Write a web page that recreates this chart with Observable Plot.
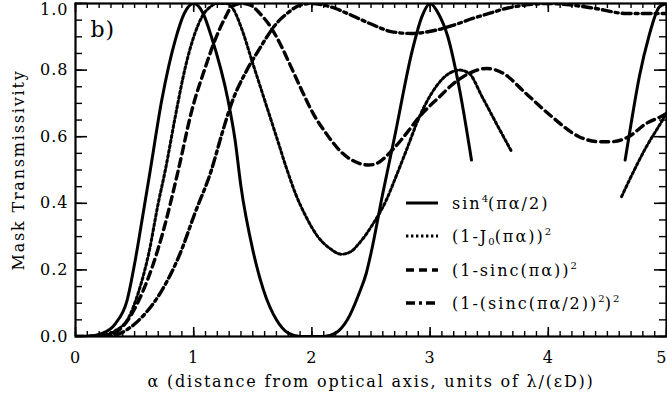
<!DOCTYPE html>
<html><head><meta charset="utf-8">
<script src="https://cdn.jsdelivr.net/npm/d3@7"></script>
<script src="https://cdn.jsdelivr.net/npm/@observablehq/plot@0.6"></script>
<style>
body{margin:0;background:#fff}
#chart{position:relative;width:667px;height:396px}
.legend{position:absolute;left:405px;top:186px;font-family:"DejaVu Serif",serif;font-size:16px;letter-spacing:2px;color:#000}
.legend .row{height:33.5px;display:flex;align-items:center;white-space:nowrap}
.legend svg{width:34px;height:10px;margin-right:13px;flex:none}
.legend sup,.legend sub{font-size:10px;letter-spacing:0}
.legend sup{vertical-align:7px}
.legend sub{vertical-align:-3px}
</style>
</head><body>
<div id="chart"></div>
<script>
// sin^4(pi a/2)
const sinA = [0,0.1,0.225,0.338,0.436,0.506,0.563,0.633,0.73,0.844,0.92,1.0,1.08,1.15,1.29,1.35,1.4,1.5,1.59,1.7,1.8,1.9,2.0,2.1,2.2,2.3,2.4,2.46,2.5,2.6,2.7,2.85,2.93,3.0,3.07,3.15,3.25,3.35,4.0,4.65,4.71,4.77,4.85,4.94,5.0];
const sinV = [0,0,0.009,0.039,0.108,0.23,0.35,0.5,0.71,0.89,0.97,1.0,0.97,0.9,0.71,0.59,0.45,0.26,0.14,0.05,0.01,0,0,0,0.01,0.05,0.13,0.19,0.25,0.43,0.6,0.86,0.96,1.0,0.97,0.9,0.74,0.53,null,0.53,0.66,0.78,0.9,0.99,1.0];
// (1-J0(pi a))^2
const j0A = [0,0.2,0.34,0.45,0.53,0.62,0.70,0.76,0.844,0.93,1.01,1.07,1.14,1.2,1.28,1.34,1.4,1.5,1.6,1.7,1.79,1.86,1.95,2.05,2.15,2.25,2.33,2.4,2.52,2.63,2.7,2.8,2.91,3.05,3.16,3.25,3.33,3.44,3.56,3.69,4.2,4.62,4.7,4.83,4.95,5.0];
const j0V = [0,0.002,0.018,0.057,0.13,0.25,0.4,0.5,0.66,0.81,0.91,0.96,0.99,1.0,1.0,0.98,0.93,0.82,0.71,0.6,0.5,0.43,0.36,0.3,0.265,0.247,0.255,0.28,0.34,0.41,0.47,0.56,0.66,0.75,0.79,0.8,0.79,0.72,0.64,0.555,null,0.42,0.48,0.57,0.64,0.67];
// (1-sinc(pi a))^2
const scA = [0,0.25,0.394,0.478,0.563,0.66,0.745,0.87,0.985,1.1,1.18,1.27,1.32,1.4,1.48,1.56,1.65,1.73,1.81,1.9,2.01,2.12,2.26,2.4,2.48,2.55,2.68,2.8,2.91,3.08,3.2,3.33,3.48,3.62,3.81,4.03,4.26,4.43,4.54,4.68,4.83,4.95,5.0];
const scV = [0,0.002,0.028,0.069,0.13,0.22,0.32,0.5,0.68,0.81,0.89,0.96,0.99,1.0,0.995,0.97,0.93,0.88,0.82,0.75,0.67,0.61,0.55,0.52,0.515,0.52,0.56,0.61,0.66,0.72,0.76,0.79,0.805,0.79,0.73,0.66,0.6,0.585,0.585,0.6,0.64,0.66,0.67];
// (1-(sinc(pi a/2))^2)^2
const s2A = [0,0.3,0.45,0.59,0.73,0.886,1.01,1.15,1.24,1.32,1.45,1.55,1.62,1.7,1.79,1.9,2.0,2.1,2.2,2.3,2.49,2.68,2.85,3.05,3.2,3.36,3.5,3.64,3.8,4.0,4.2,4.4,4.66,4.94,5.0];
const s2V = [0,0.002,0.024,0.069,0.138,0.25,0.37,0.5,0.61,0.7,0.8,0.86,0.9,0.94,0.97,0.995,1.0,0.995,0.985,0.97,0.94,0.915,0.91,0.92,0.935,0.955,0.97,0.985,0.995,1.0,0.995,0.985,0.97,0.97,0.97];

const xMajor = [0,1,2,3,4,5];
const xMinor = d3.range(0,5.001,0.1).map(v=>+v.toFixed(1));
const yMajor = [0,0.2,0.4,0.6,0.8,1.0];
const yMinor = d3.range(0,1.001,0.05).map(v=>+v.toFixed(2));
const xTickLabels = ["0","1","2","3","4","5"];
const yTickLabels = ["0.0","0.2","0.4","0.6","0.8","1.0"];
const xTitle = "α (distance from optical axis, units of λ/(εD))";
const yTitle = "Mask Transmissivity";
const panelLabel = "b)";

const W = 667, H = 396, mL = 75, mR = 1, mT = 3, mB = 60;
const iW = W - mL - mR, iH = H - mT - mB;
const tbl = (A, V) => A.map((a, i) => ({a, v: V[i]}));

const lineOpts = {x: "a", y: "v", stroke: "black", curve: "monotone-x", clip: true};
const chart = Plot.plot({
  width: W, height: H,
  marginLeft: mL, marginRight: mR, marginTop: mT, marginBottom: mB,
  x: {domain: [0, 5], axis: null},
  y: {domain: [0, 1], axis: null},
  style: {fontFamily: "DejaVu Serif, serif", fontSize: "16px", letterSpacing: "1px", background: "#fff", overflow: "visible"},
  marks: [
    Plot.line(tbl(sinA, sinV), {...lineOpts, strokeWidth: 3}),
    Plot.line(tbl(j0A, j0V), {...lineOpts, strokeWidth: 3, strokeDasharray: "2.4,2.6"}),
    Plot.line(tbl(scA, scV), {...lineOpts, strokeWidth: 3.4, strokeDasharray: "8,5"}),
    Plot.line(tbl(s2A, s2V), {...lineOpts, strokeWidth: 3.4, strokeDasharray: "9,4,3,4"}),
    // inward ticks (left/right)
    Plot.ruleY(yMajor, {y: d => d, insetRight: iW - 12, strokeWidth: 1.6}),
    Plot.ruleY(yMajor, {y: d => d, insetLeft: iW - 12, strokeWidth: 1.6}),
    Plot.ruleY(yMinor, {y: d => d, insetRight: iW - 7, strokeWidth: 1.4}),
    Plot.ruleY(yMinor, {y: d => d, insetLeft: iW - 7, strokeWidth: 1.4}),
    // inward ticks (bottom/top)
    Plot.ruleX(xMajor, {x: d => d, insetTop: iH - 9, strokeWidth: 1.6}),
    Plot.ruleX(xMajor, {x: d => d, insetBottom: iH - 9, strokeWidth: 1.6}),
    Plot.ruleX(xMinor, {x: d => d, insetTop: iH - 5, strokeWidth: 1.4}),
    Plot.ruleX(xMinor, {x: d => d, insetBottom: iH - 5, strokeWidth: 1.4}),
    Plot.frame({stroke: "black", strokeWidth: 2.2}),
    // tick labels
    Plot.text(yMajor.slice(0, 5), {y: d => d, text: (d, i) => yTickLabels[i], frameAnchor: "left", dx: -7, textAnchor: "end", lineAnchor: "middle", fontSize: 16}),
    Plot.text(yMajor.slice(5), {y: d => d, text: () => yTickLabels[5], frameAnchor: "left", dx: -7, dy: 6, textAnchor: "end", lineAnchor: "middle", fontSize: 16}),
    Plot.text(xMajor.slice(0, 5), {x: d => d, text: (d, i) => xTickLabels[i], frameAnchor: "bottom", dy: 21, textAnchor: "middle", lineAnchor: "middle", fontSize: 16}),
    Plot.text(xMajor.slice(5), {x: d => d, text: () => xTickLabels[5], frameAnchor: "bottom", dy: 21, dx: 1, textAnchor: "end", lineAnchor: "middle", fontSize: 16}),
    // titles
    Plot.text([xTitle], {text: d => d, frameAnchor: "bottom", dy: 45, textAnchor: "middle", lineAnchor: "middle", fontSize: 16}),
    Plot.text([yTitle], {text: d => d, frameAnchor: "left", dx: -57, rotate: -90, textAnchor: "middle", lineAnchor: "middle", fontSize: 16}),
    Plot.text([panelLabel], {text: d => d, frameAnchor: "top-left", dx: 15, dy: 26, textAnchor: "start", lineAnchor: "middle", fontSize: 22})
  ]
});
const root = document.getElementById("chart");
root.appendChild(chart);
// wider letter spacing for the axis titles
d3.select(chart).selectAll("text").filter(function() {
  return this.textContent === xTitle || this.textContent === yTitle;
}).style("letter-spacing", "1.8px");

// legend
const legendItems = [
  {html: "sin<sup>4</sup>(πα/2)", dash: null, w: 3},
  {html: "(1-J<sub>0</sub>(πα))<sup>2</sup>", dash: "2.4,2.6", w: 3},
  {html: "(1-sinc(πα))<sup>2</sup>", dash: "8,5", w: 3.4},
  {html: "(1-(sinc(πα/2))<sup>2</sup>)<sup>2</sup>", dash: "9,4,3,4", w: 3.4}
];
const leg = document.createElement("div");
leg.className = "legend";
for (const it of legendItems) {
  const row = document.createElement("div");
  row.className = "row";
  row.innerHTML = `<svg viewBox="0 0 34 10"><line x1="1" x2="33" y1="5" y2="5" stroke="black" stroke-width="${it.w}" ${it.dash ? `stroke-dasharray="${it.dash}"` : ""}/></svg><span>${it.html}</span>`;
  leg.appendChild(row);
}
root.appendChild(leg);
</script>
</body></html>
